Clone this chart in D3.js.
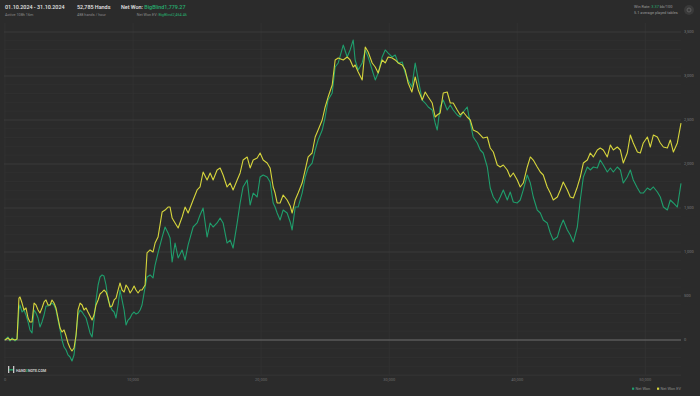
<!DOCTYPE html>
<html>
<head>
<meta charset="utf-8">
<script src="https://cdn.jsdelivr.net/npm/d3@7"></script>
<style>
html, body { margin: 0; padding: 0; background: #2b2b2b; }
svg { display: block; font-family: Roboto, "Noto Sans", sans-serif; }
</style>
</head>
<body>
<svg id="chart" width="700" height="396"></svg>
<script>
// hands played (x) and cumulative results in big blinds
const hands = [0,230,390,550,780,940,1090,1170,1330,1480,1640,1800,1950,2110,2270,2420,2580,2730,2890,3050,3200,3360,3520,3670,3830,3980,4140,4300,4450,4610,4770,4920,5080,5230,5390,5550,5700,5860,6020,6170,6330,6480,6640,6800,6950,7110,7270,7420,7580,7730,7890,8050,8200,8360,8520,8670,8830,8980,9140,9300,9450,9610,9770,9920,10080,10230,10390,10550,
  10700,10940,11090,11330,11560,11720,11950,12270,12500,12730,12890,13050,13280,13520,13830,14060,14300,14690,15000,15230,15470,15780,16020,16250,16560,16800,17030,17340,17580,17810,18130,18360,18590,18910,19140,19380,19690,19920,20160,20470,20700,20940,
  21090,21250,21480,21720,22030,22270,22420,22660,22890,23200,23440,23670,23980,24220,24450,24770,25000,25230,25550,25780,26020,26410,26720,26950,27190,27340,27580,27890,28130,28360,28670,28910,29140,29450,29690,29920,30230,30470,30700,31020,31250,31480,
  31770,32030,32270,32580,32810,33050,33360,33590,33750,33980,34220,34530,34770,35000,35310,35550,35780,36090,36330,36560,36880,37110,37340,37660,37890,38130,38440,38670,38910,39220,39450,39690,40000,40230,40470,40780,41020,41250,41560,41800,42030,
  42340,42580,42810,43130,43360,43590,43910,44140,44380,44690,44920,45160,45470,45700,45940,46250,46480,46720,47030,47270,47500,47810,48050,48280,48590,48830,49060,49380,49610,49840,50160,50390,50630,50940,51170,51410,51720,51950,52190,52500,52785];

const netWon = [0,34,-11,23,-11,11,341,398,318,341,284,205,114,80,341,307,250,148,205,284,386,386,398,420,398,341,227,114,0,-80,-114,-170,-193,-239,-170,57,284,341,318,284,250,170,80,34,227,455,625,716,739,727,625,455,398,341,318,250,398,568,455,341,170,227,250,295,318,295,307,341,
  398,602,716,739,705,852,989,1170,1284,1216,1159,886,1102,932,1023,909,1080,1284,1330,1420,1500,1170,1330,1284,1330,1386,1330,1102,1136,1045,1330,1557,1739,1818,1534,1670,1625,1852,1875,1852,1795,1557,
  1511,1443,1364,1477,1443,1341,1250,1511,1511,1670,1852,1955,2011,2159,2273,2386,2534,2727,2807,3102,3148,3352,3216,3296,3409,3182,3068,3148,3296,3216,3068,2955,3034,3216,3296,3261,3216,3239,3148,3159,3034,2955,
  2875,3148,2955,2727,2693,2648,2614,2466,2386,2648,2727,2614,2670,2614,2557,2534,2591,2648,2466,2307,2239,2159,2125,1966,1727,1625,1557,1625,1705,1591,1682,1568,1557,1591,1705,1875,1784,1625,1477,1443,1364,
  1330,1216,1136,1170,1284,1364,1250,1193,1114,1284,1591,1852,1966,1932,1966,1955,2045,1989,1909,1955,1909,1966,1932,1784,1852,1932,1818,1727,1670,1670,1727,1705,1739,1682,1625,1511,1477,1591,1557,1511,1779.27];

const netWonEV = [0,23,0,11,0,11,477,489,420,341,364,250,205,205,420,398,341,307,364,432,455,398,398,455,420,364,250,136,91,114,45,-34,-91,-125,-91,57,341,420,398,341,364,318,273,227,284,398,455,523,545,568,545,477,375,386,455,477,568,648,568,545,625,591,534,568,614,568,534,568,
  568,625,989,1023,1000,1102,1170,1455,1477,1511,1511,1386,1330,1273,1398,1511,1443,1591,1705,1739,1909,1818,1898,1818,1932,1955,1875,1739,1784,1705,1818,1898,2045,2080,1955,2045,2068,2125,2045,2011,1955,1739,
  1670,1557,1557,1648,1591,1523,1443,1591,1670,1784,1932,2080,2125,2307,2386,2500,2648,2761,2898,3182,3205,3182,3216,3182,3102,3125,3045,2955,3330,3273,3148,3102,3034,3182,3148,3216,3205,3182,3148,3125,3068,2920,
  2818,2989,2841,2727,2818,2761,2693,2534,2557,2580,2807,2818,2693,2693,2614,2557,2591,2534,2500,2386,2364,2330,2295,2307,2182,2136,1989,1966,1989,1932,1852,1898,1818,1739,1784,1966,2080,2045,1966,1909,1875,
  1739,1670,1591,1625,1705,1795,1705,1625,1614,1739,1852,2011,2045,2125,2080,2159,2182,2159,2080,2216,2159,2193,2159,2011,2125,2330,2239,2136,2125,2239,2307,2193,2330,2307,2239,2193,2182,2273,2136,2239,2464.46];

const xTicks = [0, 10000, 20000, 30000, 40000, 50000];
const yTicks = [0, 500, 1000, 1500, 2000, 2500, 3000, 3500];
const seriesNames = ['Net Won', 'Net Won EV'];
const seriesColors = ['#1f9e6c', '#d6d53c'];

const svg = d3.select('#chart');

const x = d3.scaleLinear().domain([0, 52785]).range([5, 681]);
const y = d3.scaleLinear().domain([-400, 3600]).range([375.2, 23.2]);

// minor grid every 100 bb
const grid = svg.append('g');
grid.selectAll('line.minor')
  .data(d3.range(-400, 3600, 100).filter(v => v % 500 !== 0))
  .join('line')
  .attr('x1', 4).attr('x2', 681)
  .attr('y1', d => y(d)).attr('y2', d => y(d))
  .attr('stroke', '#313131').attr('stroke-width', 0.8);

// vertical grid at x ticks
grid.selectAll('line.vert')
  .data(xTicks)
  .join('line')
  .attr('x1', d => x(d)).attr('x2', d => x(d))
  .attr('y1', 23).attr('y2', 375)
  .attr('stroke', '#333333').attr('stroke-width', 0.8);

// major grid + labels
const yAxis = svg.append('g');
yAxis.selectAll('line')
  .data(yTicks.filter(v => v !== 0))
  .join('line')
  .attr('x1', 4).attr('x2', 681)
  .attr('y1', d => y(d)).attr('y2', d => y(d))
  .attr('stroke', '#3b3b3b').attr('stroke-width', 1);

svg.append('line')
  .attr('x1', 4).attr('x2', 681)
  .attr('y1', y(0)).attr('y2', y(0))
  .attr('stroke', '#5a5a5a').attr('stroke-width', 1.6);

svg.append('line')
  .attr('x1', 4).attr('x2', 681)
  .attr('y1', y(-400)).attr('y2', y(-400))
  .attr('stroke', '#363636').attr('stroke-width', 0.8);

yAxis.selectAll('text')
  .data(yTicks)
  .join('text')
  .attr('x', 684)
  .attr('y', d => y(d))
  .attr('dy', '0.35em')
  .attr('font-size', 4)
  .attr('fill', '#7a7a7a')
  .text(d => d3.format(',')(d));

// x labels
svg.append('g').selectAll('text')
  .data(xTicks)
  .join('text')
  .attr('x', d => x(d))
  .attr('y', 380.5)
  .attr('text-anchor', 'middle')
  .attr('font-size', 4)
  .attr('fill', '#6e6e6e')
  .text(d => d3.format(',')(d));

// lines
const line = d3.line()
  .x((d, i) => x(hands[i]))
  .y(d => y(d));

[netWon, netWonEV].forEach(function (vals, k) {
  svg.append('path')
    .datum(vals)
    .attr('d', line)
    .attr('fill', 'none')
    .attr('stroke', seriesColors[k])
    .attr('stroke-width', 1.1)
    .attr('stroke-linejoin', 'round');
});

// header
const head = svg.append('g').attr('font-size', 5.4);
head.append('text').attr('x', 5).attr('y', 9).attr('fill', '#e6e6e6').attr('font-weight', 500).text('01.10.2024 - 31.10.2024');
head.append('text').attr('x', 5).attr('y', 15.5).attr('font-size', 3.8).attr('fill', '#8a8a8a').text('Active 108h 16m');
head.append('text').attr('x', 77).attr('y', 9).attr('fill', '#e6e6e6').attr('font-weight', 500).text('52,785 Hands');
head.append('text').attr('x', 77).attr('y', 15.5).attr('font-size', 3.8).attr('fill', '#8a8a8a').text('488 hands / hour');

const nw = head.append('text').attr('x', 121).attr('y', 9).attr('fill', '#e6e6e6').attr('font-weight', 500);
nw.append('tspan').text('Net Won: ');
nw.append('tspan').attr('fill', '#27b070').text('BigBlind1,779.27');

const nwev = head.append('text').attr('x', 187).attr('y', 15.5).attr('text-anchor', 'end').attr('font-size', 3.8).attr('fill', '#8a8a8a');
nwev.append('tspan').text('Net Won  EV: ');
nwev.append('tspan').attr('fill', '#27b070').text('BigBlind2,464.46');

const wr = head.append('text').attr('x', 634).attr('y', 7.5).attr('font-size', 3.9).attr('fill', '#9a9a9a');
wr.append('tspan').text('Win Rate: ');
wr.append('tspan').attr('fill', '#27b070').text('3.37');
wr.append('tspan').text(' bb/100');
head.append('text').attr('x', 634).attr('y', 14).attr('font-size', 3.9).attr('fill', '#9a9a9a').text('5.1 average played tables');

// settings button
svg.append('circle').attr('cx', 689).attr('cy', 10).attr('r', 5).attr('fill', '#3a3a3a');
svg.append('circle').attr('cx', 689).attr('cy', 10).attr('r', 2).attr('fill', 'none').attr('stroke', '#5e5e5e').attr('stroke-width', 1);

// logo
const logo = svg.append('g');
logo.append('rect').attr('x', 8).attr('y', 366).attr('width', 1.3).attr('height', 7).attr('fill', '#c8c8c8');
logo.append('rect').attr('x', 13).attr('y', 366).attr('width', 1.3).attr('height', 7).attr('fill', '#c8c8c8');
logo.append('rect').attr('x', 9).attr('y', 369.2).attr('width', 4).attr('height', 1.3).attr('fill', '#27b070');
const lt = logo.append('text').attr('x', 16).attr('y', 371.6).attr('font-size', 3.6).attr('font-weight', 700).attr('fill', '#d0d0d0');
lt.append('tspan').text('HAND');
lt.append('tspan').attr('fill', '#27b070').text('2');
lt.append('tspan').text('NOTE.COM');

// legend
const legend = svg.append('g');
const legendX = [632, 657];
seriesNames.forEach(function (name, k) {
  legend.append('rect')
    .attr('x', legendX[k]).attr('y', 387.6)
    .attr('width', 2.2).attr('height', 2.2)
    .attr('fill', seriesColors[k]);
  legend.append('text')
    .attr('x', legendX[k] + 3.4).attr('y', 390)
    .attr('font-size', 3.9)
    .attr('fill', '#8a8a8a')
    .text(name);
});
</script>
</body>
</html>
